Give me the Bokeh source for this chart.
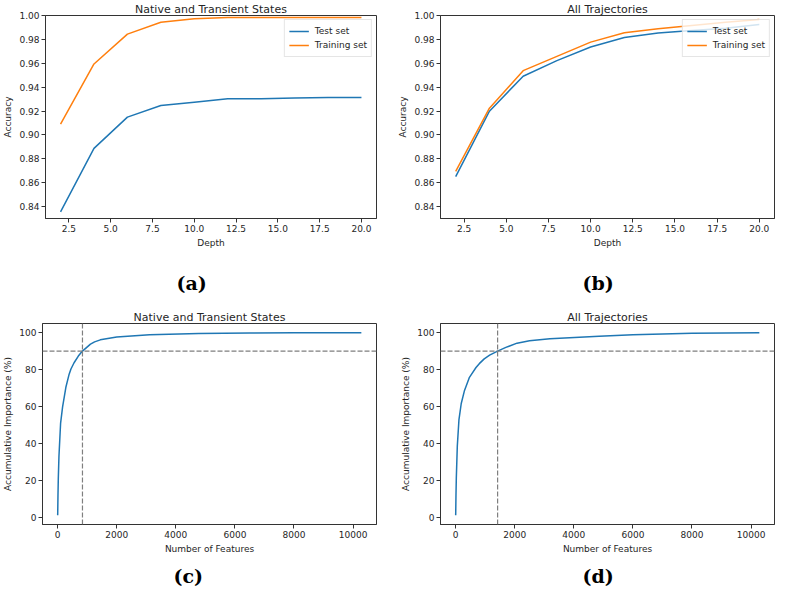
from bokeh.plotting import figure
from bokeh.layouts import column, row
from bokeh.models import Range1d, FixedTicker, PrintfTickFormatter, Span, Title
from bokeh.embed import file_html
from bokeh.resources import INLINE

# ---- data ----
depth = [2, 4, 6, 8, 10, 12, 14, 16, 18, 20]
native_test = [0.8356, 0.8887, 0.9149, 0.9246, 0.9274, 0.9302, 0.9302, 0.9310, 0.9313, 0.9313]
native_train = [0.9090, 0.9594, 0.9844, 0.9944, 0.9972, 0.9983, 0.9983, 0.9983, 0.9983, 0.9983]
all_test = [0.8651, 0.9199, 0.9491, 0.9622, 0.9736, 0.9816, 0.9853, 0.9875, 0.9894, 0.9925]
all_train = [0.8695, 0.9224, 0.9538, 0.9658, 0.9777, 0.9855, 0.9889, 0.9917, 0.9944, 0.9967]

nat_features = [1, 11, 22, 44, 100, 167, 278, 389, 450, 556, 700, 840, 1111, 1250, 1444, 2000,
                3111, 4778, 6500, 8000, 10280]
nat_importance = [1.0, 12.0, 20.9, 33.0, 51.0, 59.8, 70.4, 77.5, 80.3, 83.7, 87.3, 90.0, 93.8,
                  95.0, 96.1, 97.6, 98.8, 99.5, 99.8, 99.95, 100.0]
all_features = [1, 11, 22, 56, 111, 189, 300, 467, 689, 800, 967, 1150, 1420, 1700, 2078, 2500,
                3189, 4856, 6000, 8000, 10280]
all_importance = [1.0, 12.0, 20.9, 38.6, 52.7, 61.6, 68.7, 75.8, 81.1, 83.2, 85.8, 87.8, 90.0,
                  92.0, 94.3, 95.6, 96.7, 98.1, 98.9, 99.6, 100.0]
nat_cut = 840
all_cut = 1420
importance_level = 90

depth_ticks = [2.5, 5.0, 7.5, 10.0, 12.5, 15.0, 17.5, 20.0]
acc_ticks = [0.84, 0.86, 0.88, 0.90, 0.92, 0.94, 0.96, 0.98, 1.00]
feat_ticks = [0, 2000, 4000, 6000, 8000, 10000]
imp_ticks = [0, 20, 40, 60, 80, 100]

BLUE = "#1f77b4"
ORANGE = "#ff7f0e"
TXT = "#262626"
SPINE = "#333333"
FONT = "DejaVu Sans"


def style(p, title):
    p.title.text = title
    p.title.align = "center"
    p.title.text_font = FONT
    p.title.text_font_size = "11px"
    p.title.text_font_style = "normal"
    p.title.text_color = TXT
    p.title.standoff = 0
    p.xgrid.visible = False
    p.ygrid.visible = False
    p.outline_line_color = SPINE
    p.outline_line_alpha = 1
    for ax in (p.xaxis, p.yaxis):
        ax.axis_line_color = SPINE
        ax.major_tick_line_color = SPINE
        ax.minor_tick_line_color = None
        ax.major_tick_out = 4
        ax.major_tick_in = 0
        ax.major_label_text_font = FONT
        ax.major_label_text_font_size = "9px"
        ax.major_label_text_color = TXT
        ax.axis_label_text_font = FONT
        ax.axis_label_text_font_size = "9px"
        ax.axis_label_text_font_style = "normal"
        ax.axis_label_text_color = TXT
        ax.major_label_standoff = 2
        ax.axis_label_standoff = 3


def add_tag(p, text, offset, gap):
    # thin spacer panel between the x axis and the sub-figure tag
    p.add_layout(Title(text=" ", text_font_size="1px", standoff=gap), "below")
    t = Title(text=text, align="left", offset=offset, standoff=0,
              text_font="DejaVu Serif", text_font_size="19px",
              text_font_style="bold", text_color="#000000")
    p.add_layout(t, "below")


def acc_fig(title, test, train, width, height, mbl, mbr, mbb, tag, tag_off, gap):
    p = figure(width=width, height=height, output_backend="svg", toolbar_location=None,
               x_range=Range1d(1.1, 20.9), y_range=Range1d(0.83, 1.0),
               min_border_left=mbl, min_border_right=mbr, min_border_top=0, min_border_bottom=mbb)
    style(p, title)
    p.line(depth, test, line_color=BLUE, line_width=1.5, legend_label="Test set")
    p.line(depth, train, line_color=ORANGE, line_width=1.5, legend_label="Training set")
    p.xaxis.ticker = FixedTicker(ticks=depth_ticks)
    p.xaxis.formatter = PrintfTickFormatter(format="%.1f")
    p.yaxis.ticker = FixedTicker(ticks=acc_ticks)
    p.yaxis.formatter = PrintfTickFormatter(format="%.2f")
    p.xaxis.axis_label = "Depth"
    p.yaxis.axis_label = "Accuracy"
    lg = p.legend[0]
    lg.location = "top_right"
    lg.margin = 4
    lg.padding = 4
    lg.spacing = 0
    lg.label_text_font = FONT
    lg.label_text_font_size = "9px"
    lg.label_text_color = TXT
    lg.label_height = 14
    lg.glyph_height = 14
    lg.glyph_width = 20
    lg.label_standoff = 6
    lg.border_line_color = "#cccccc"
    lg.background_fill_alpha = 0.8
    add_tag(p, tag, tag_off, gap)
    return p


def imp_fig(title, feats, imp, cut, width, height, mbl, mbr, mbb, tag, tag_off, gap):
    p = figure(width=width, height=height, output_backend="svg", toolbar_location=None,
               x_range=Range1d(-513, 10793), y_range=Range1d(-3.95, 104.95),
               min_border_left=mbl, min_border_right=mbr, min_border_top=0, min_border_bottom=mbb)
    style(p, title)
    p.line(feats, imp, line_color=BLUE, line_width=1.5)
    p.add_layout(Span(location=cut, dimension="height", line_color="#7f7f7f",
                      line_dash="5 2", line_width=1.2))
    p.add_layout(Span(location=importance_level, dimension="width", line_color="#7f7f7f",
                      line_dash="5 2", line_width=1.2))
    p.xaxis.ticker = FixedTicker(ticks=feat_ticks)
    p.yaxis.ticker = FixedTicker(ticks=imp_ticks)
    p.xaxis.axis_label = "Number of Features"
    p.yaxis.axis_label = "Accumulative Importance (%)"
    add_tag(p, tag, tag_off, gap)
    return p


pa = acc_fig("Native and Transient States", native_test, native_train,
             390, 308, 40, 14, 90, "(a)", 131, 16)
pb = acc_fig("All Trajectories", all_test, all_train,
             389, 308, 50, 5, 90, "(b)", 142, 16)
pc = imp_fig("Native and Transient States", nat_features, nat_importance, nat_cut,
             390, 281, 40, 14, 65, "(c)", 131, 3)
pd = imp_fig("All Trajectories", all_features, all_importance, all_cut,
             389, 281, 50, 5, 65, "(d)", 142, 3)

layout = column(row(pa, pb), row(pc, pd))
open("out.html", "w").write(file_html(layout, INLINE))
